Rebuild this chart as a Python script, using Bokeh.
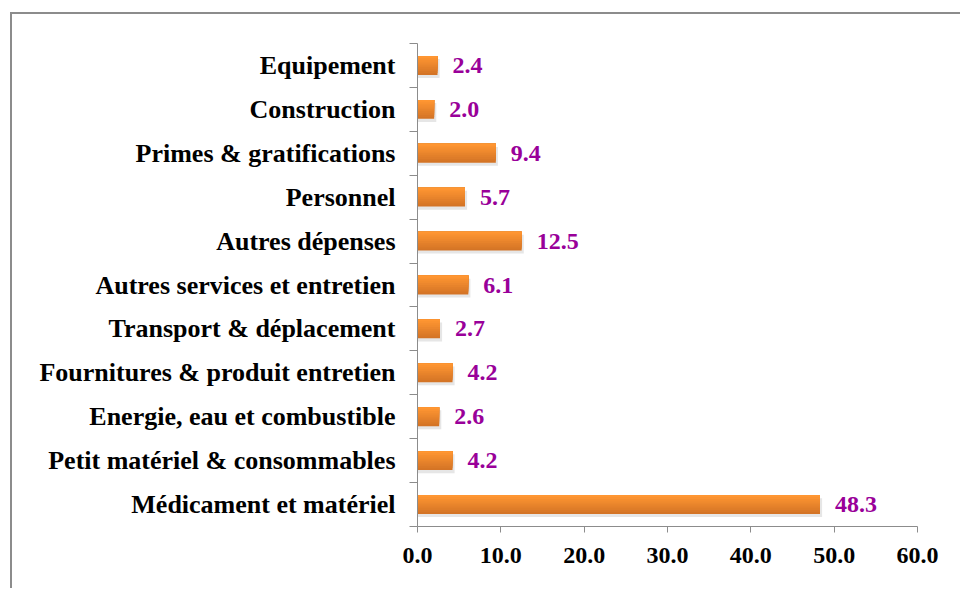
from bokeh.plotting import figure
from bokeh.models import Range1d, FixedTicker, ColumnDataSource
from bokeh.embed import file_html
from bokeh.resources import INLINE
from bokeh.core.properties import value

categories = [
    "Médicament et matériel",
    "Petit matériel & consommables",
    "Energie, eau et combustible",
    "Fournitures & produit entretien",
    "Transport & déplacement",
    "Autres services et entretien",
    "Autres dépenses",
    "Personnel",
    "Primes & gratifications",
    "Construction",
    "Equipement",
]
values = [48.3, 4.2, 2.6, 4.2, 2.7, 6.1, 12.5, 5.7, 9.4, 2.0, 2.4]
x_ticks = [0, 10, 20, 30, 40, 50, 60]

FONT = "Liberation Serif"
n = len(categories)
idx = list(range(n))

p = figure(
    output_backend="svg", toolbar_location=None,
    frame_width=500, frame_height=483,
    min_border_left=405, min_border_top=29, min_border_right=43, min_border_bottom=62,
    x_range=Range1d(0, 60), y_range=Range1d(-0.5, n - 0.5),
    styles={"margin-left": "10px", "margin-top": "12px",
            "border-left": "2px solid #8c8c8c", "border-top": "2px solid #8c8c8c"},
)
p.background_fill_color = "white"
p.border_fill_color = "white"
p.outline_line_color = None
p.grid.grid_line_color = None

bar_h = 0.43
# shadow
shadow = ColumnDataSource(dict(y=[i - 0.07 for i in idx], right=[v + 0.25 for v in values]))
p.hbar(y="y", left=0, right="right", height=bar_h, source=shadow,
       fill_color="#9a9a9a", fill_alpha=0.25, line_color=None)

# gradient: base dark bar, then lighter bars anchored to the top edge
top = (255, 150, 50)
bot = (212, 116, 38)
nb = 10
for k in range(nb):
    t = 1 - k / (nb - 1)
    c = tuple(int(round(top[j] + (bot[j] - top[j]) * t)) for j in range(3))
    col = "#%02x%02x%02x" % c
    h = bar_h * (nb - k) / nb
    ys = [i + bar_h / 2 - h / 2 for i in idx]
    p.hbar(y=ys, left=0, right=values, height=h,
           fill_color=col, line_color=None)

labels = ColumnDataSource(dict(x=values, y=idx, t=["%.1f" % v for v in values]))
p.text(x="x", y="y", text="t", source=labels, x_offset=15,
       text_font=value(FONT), text_font_style="bold", text_font_size="24px",
       text_color="#990099", text_align="left", text_baseline="middle")

# y axis
ya = p.yaxis[0]
ya.ticker = FixedTicker(ticks=idx, minor_ticks=[i - 0.5 for i in range(n + 1)])
ya.major_label_overrides = {i: c for i, c in enumerate(categories)}
ya.major_tick_line_color = None
ya.major_tick_out = 0
ya.major_tick_in = 0
ya.minor_tick_out = 8
ya.minor_tick_in = 0
ya.minor_tick_line_color = "#8c8c8c"
ya.axis_line_color = "#8c8c8c"
ya.major_label_standoff = 14
ya.major_label_text_font = FONT
ya.major_label_text_font_style = "bold"
ya.major_label_text_font_size = "26px"
ya.major_label_text_color = "black"

xa = p.xaxis[0]
xa.ticker = FixedTicker(ticks=x_ticks, minor_ticks=[])
xa.major_label_overrides = {t: "%.1f" % t for t in x_ticks}
xa.major_tick_out = 6
xa.major_tick_in = 0
xa.major_tick_line_color = "#8c8c8c"
xa.axis_line_color = "#8c8c8c"
xa.minor_tick_line_color = None
xa.major_label_standoff = 15
xa.major_label_text_font = FONT
xa.major_label_text_font_style = "bold"
xa.major_label_text_font_size = "24px"
xa.major_label_text_color = "black"

open("out.html", "w").write(file_html(p, INLINE))
